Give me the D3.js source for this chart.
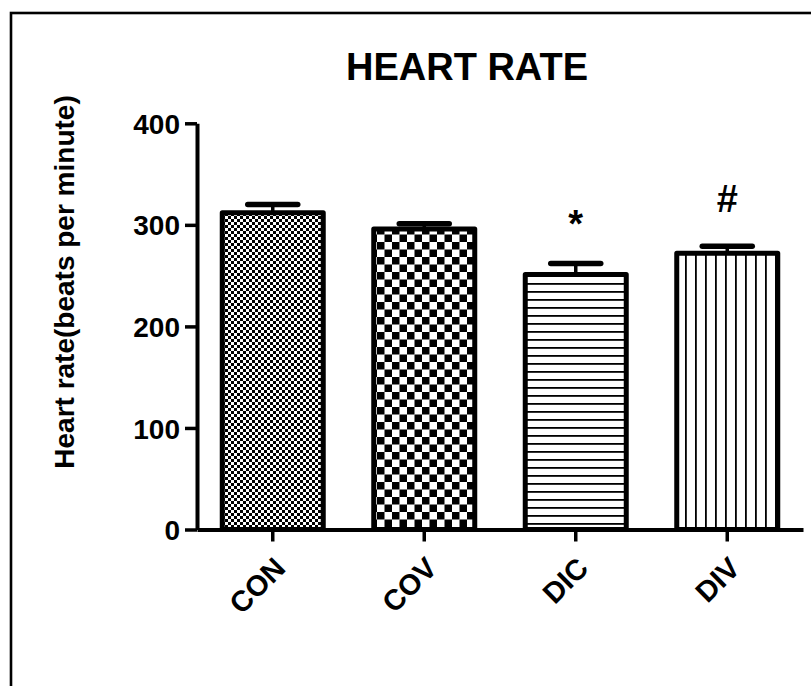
<!DOCTYPE html>
<html>
<head>
<meta charset="utf-8">
<script src="https://cdn.jsdelivr.net/npm/d3@7/dist/d3.min.js"></script>
<style>
  html, body { margin: 0; padding: 0; background: #fff; }
  svg { display: block; }
  text { font-family: "Liberation Sans", Arial, sans-serif; font-weight: bold; fill: #000; }
</style>
</head>
<body>
<svg id="chart" width="811" height="686"></svg>
<script>
// ---- data ----
const categories = ["CON", "COV", "DIC", "DIV"];
const meanValues = [312, 296, 251, 272];
const errorValues = [8, 5, 11, 7];
const annotations = ["", "", "*", "#"];
const annotationLevel = [null, null, 288, 313];
const yTicks = [0, 100, 200, 300, 400];
const patternIds = ["fineCheck", "coarseCheck", "hLines", "vLines"];

const titleText = "HEART RATE";
const yTitle = "Heart rate(beats per minute)";

// ---- layout ----
const W = 811, H = 686;
const svg = d3.select("#chart");

// frame
svg.append("rect")
  .attr("x", 11).attr("y", 13)
  .attr("width", W + 20).attr("height", H + 20)
  .attr("fill", "none").attr("stroke", "#000").attr("stroke-width", 2.6);

// patterns
const defs = svg.append("defs");
{
  const p = defs.append("pattern").attr("id", "fineCheck")
    .attr("patternUnits", "userSpaceOnUse").attr("width", 6).attr("height", 6);
  p.append("rect").attr("width", 6).attr("height", 6).attr("fill", "#fff");
  p.append("rect").attr("x", 0).attr("y", 0).attr("width", 3).attr("height", 3).attr("fill", "#000");
  p.append("rect").attr("x", 3).attr("y", 3).attr("width", 3).attr("height", 3).attr("fill", "#000");
}
{
  const s = 7.5;
  const p = defs.append("pattern").attr("id", "coarseCheck")
    .attr("patternUnits", "userSpaceOnUse").attr("width", 2 * s).attr("height", 2 * s)
    .attr("x", 2).attr("y", 2);
  p.append("rect").attr("width", 2 * s).attr("height", 2 * s).attr("fill", "#fff");
  p.append("rect").attr("x", 0).attr("y", 0).attr("width", s).attr("height", s).attr("fill", "#000");
  p.append("rect").attr("x", s).attr("y", s).attr("width", s).attr("height", s).attr("fill", "#000");
}
{
  const p = defs.append("pattern").attr("id", "hLines")
    .attr("patternUnits", "userSpaceOnUse").attr("width", 10).attr("height", 8);
  p.append("rect").attr("width", 10).attr("height", 8).attr("fill", "#fff");
  p.append("rect").attr("x", 0).attr("y", 3).attr("width", 10).attr("height", 1.8).attr("fill", "#000");
}
{
  const p = defs.append("pattern").attr("id", "vLines")
    .attr("patternUnits", "userSpaceOnUse").attr("width", 10).attr("height", 10);
  p.append("rect").attr("width", 10).attr("height", 10).attr("fill", "#fff");
  p.append("rect").attr("x", 5).attr("y", 0).attr("width", 1.8).attr("height", 10).attr("fill", "#000");
}

// scales
const x = d3.scaleBand().domain(categories).range([197, 803])
  .paddingInner(1 / 3).paddingOuter(1 / 6);
const y = d3.scaleLinear().domain([0, 400]).range([529.5, 123.3]);

// title
svg.append("text")
  .attr("x", 467).attr("y", 80)
  .attr("text-anchor", "middle")
  .style("font-size", "38px")
  .text(titleText);

// y axis title
svg.append("text")
  .attr("transform", `translate(74, 282) rotate(-90)`)
  .attr("text-anchor", "middle")
  .style("font-size", "28px")
  .text(yTitle);

const data = categories.map((c, i) => ({
  cat: c, v: meanValues[i], e: errorValues[i], pat: patternIds[i],
  ann: annotations[i], annLevel: annotationLevel[i]
}));

// bars
svg.append("g").selectAll("rect").data(data).join("rect")
  .attr("x", d => x(d.cat))
  .attr("width", x.bandwidth())
  .attr("y", d => y(d.v))
  .attr("height", d => y(0) - y(d.v))
  .attr("fill", d => `url(#${d.pat})`)
  .attr("stroke", "#000")
  .attr("stroke-width", 5)
  .attr("stroke-linejoin", "round");

// error bars
const eg = svg.append("g");
eg.selectAll("line.stem").data(data).join("line")
  .attr("class", "stem")
  .attr("x1", d => x(d.cat) + x.bandwidth() / 2)
  .attr("x2", d => x(d.cat) + x.bandwidth() / 2)
  .attr("y1", d => y(d.v))
  .attr("y2", d => y(d.v + d.e))
  .attr("stroke", "#000").attr("stroke-width", 3.5);
eg.selectAll("line.cap").data(data).join("line")
  .attr("class", "cap")
  .attr("x1", d => x(d.cat) + x.bandwidth() / 2 - 25)
  .attr("x2", d => x(d.cat) + x.bandwidth() / 2 + 25)
  .attr("y1", d => y(d.v + d.e))
  .attr("y2", d => y(d.v + d.e))
  .attr("stroke", "#000").attr("stroke-width", 5.5)
  .attr("stroke-linecap", "round");

// annotations
svg.append("g").selectAll("text").data(data.filter(d => d.ann)).join("text")
  .attr("x", d => x(d.cat) + x.bandwidth() / 2)
  .attr("y", d => y(d.annLevel))
  .attr("text-anchor", "middle")
  .style("font-size", "38px")
  .text(d => d.ann);

// y axis
const yAxis = svg.append("g")
  .attr("transform", "translate(197,0)")
  .call(d3.axisLeft(y).tickValues(yTicks).tickSize(12).tickSizeOuter(0).tickPadding(5));
yAxis.select(".domain").attr("stroke", "#000").attr("stroke-width", 4);
yAxis.selectAll(".tick line").attr("stroke", "#000").attr("stroke-width", 3.5);
yAxis.selectAll(".tick text")
  .style("font-size", "28px")
  .style("font-family", "'Liberation Sans', Arial, sans-serif")
  .style("font-weight", "bold")
  .attr("dy", "0.36em");

// x axis
const xAxis = svg.append("g")
  .attr("transform", `translate(0,${y(0)})`)
  .call(d3.axisBottom(x).tickSize(12).tickSizeOuter(0).tickPadding(4));
xAxis.select(".domain").attr("stroke", "#000").attr("stroke-width", 4);
xAxis.selectAll(".tick line").attr("stroke", "#000").attr("stroke-width", 3.5);
xAxis.selectAll(".tick text")
  .style("font-size", "29px")
  .style("font-family", "'Liberation Sans', Arial, sans-serif")
  .style("font-weight", "bold")
  .attr("text-anchor", "end")
  .attr("dy", "0")
  .attr("transform", "translate(3,29) rotate(-45)");
</script>
</body>
</html>
